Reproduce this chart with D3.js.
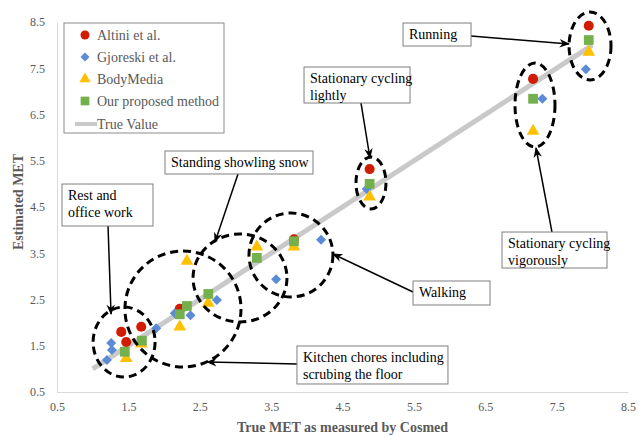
<!DOCTYPE html>
<html><head><meta charset="utf-8">
<script src="https://cdn.jsdelivr.net/npm/d3@7"></script>
<style>body{margin:0;background:#fff;} svg{display:block;} svg text{font-family:"Liberation Serif","Times New Roman",serif !important;}</style>
</head><body><svg id="c" width="639" height="437"></svg>
<script>
// ---- data ----
const ticks = [0.5,1.5,2.5,3.5,4.5,5.5,6.5,7.5,8.5];
const seriesNames = ["Altini et al.","Gjoreski et al.","BodyMedia","Our proposed method"];
const altini = [[1.40,1.80],[1.47,1.58],[1.68,1.91],[2.22,2.30],[3.82,3.80],[4.88,5.32],[7.17,7.27],[7.95,8.42]];
const gjoreski = [[1.20,1.19],[1.27,1.41],[1.26,1.56],[1.89,1.88],[2.15,2.20],[2.37,2.16],[2.74,2.49],[3.57,2.94],[4.20,3.79],[4.84,4.89],[7.30,6.84],[7.91,7.48]];
const bodymedia = [[1.47,1.23],[1.68,1.54],[2.22,1.91],[2.32,3.33],[2.62,2.42],[3.30,3.64],[3.82,3.64],[4.88,4.72],[7.17,6.14],[7.95,7.85]];
const proposed = [[1.45,1.37],[1.69,1.61],[2.22,2.18],[2.32,2.36],[2.62,2.62],[3.30,3.40],[3.82,3.76],[4.88,5.00],[7.17,6.84],[7.95,8.11]];
const trueValue = [[1,1],[8,8]];
// activity groups (ellipses, data units: cx, cy, rx, ry)
const groups = [[1.44,1.58,0.434,0.757],[2.265,2.295,0.813,1.254],[3.064,2.965,0.658,0.951],[3.778,3.462,0.588,0.908],[4.899,5.02,0.21,0.562],[7.197,6.705,0.28,0.908],[7.968,7.981,0.294,0.735]];
// callouts: lines, box left/top (data), arrow from -> to (data)
const callouts = [
 {lines:["Running"], x:5.348, y:8.478, w:68, h:23, from:[6.301,8.197], to:[7.673,8.024]},
 {lines:["Stationary cycling","lightly"], x:3.961, y:7.527, w:106, h:36, from:[4.759,6.749], to:[4.885,5.559]},
 {lines:["Stationary cycling","vigorously"], x:6.735, y:3.959, w:105, h:36, from:[7.435,3.959], to:[7.211,5.776]},
 {lines:["Standing showling snow"], x:2.013, y:5.711, w:148, h:23, from:[3.036,5.214], to:[2.714,3.743]},
 {lines:["Rest and","office work"], x:0.570, y:4.997, w:91, h:42, from:[1.215,4.089], to:[1.257,2.186]},
 {lines:["Walking"], x:5.488, y:2.90, w:77, h:24, from:[5.488,2.662], to:[4.367,3.484]},
 {lines:["Kitchen chores including","scrubing the floor"], x:3.862, y:1.495, w:151, h:38, from:[3.862,1.105], to:[2.602,1.149]}
];
// ---- chart ----
const FONT = "Liberation Serif";
const svg = d3.select("#c");
const m = {l:57, r:628, t:22, b:392};
const x = d3.scaleLinear().domain([0.5,8.5]).range([m.l,m.r]);
const y = d3.scaleLinear().domain([0.5,8.5]).range([m.b,m.t]);
const colors = ["#d01c00","#5b8bd6","#ffc000","#74b04c"];
const symbols = [d3.symbolCircle, d3.symbolSquare, d3.symbolTriangle, d3.symbolSquare];
const rot = [0,45,0,0];
const sizes = [80, 50, 70, 95];
const grey = "#595959";

const defs = svg.append("defs");
defs.append("marker").attr("id","ah").attr("viewBox","0 0 10 10").attr("refX",9).attr("refY",5)
  .attr("markerWidth",7).attr("markerHeight",7).attr("orient","auto-start-reverse")
  .append("path").attr("d","M0,1 L10,5 L0,9 L3,5 Z").attr("fill","#000");

// axes
const xa = svg.append("g").attr("transform",`translate(0,${m.b})`)
  .call(d3.axisBottom(x).tickValues(ticks).tickFormat(d3.format(".1f")).tickSize(0).tickPadding(10));
const ya = svg.append("g").attr("transform",`translate(${m.l},0)`)
  .call(d3.axisLeft(y).tickValues(ticks).tickFormat(d3.format(".1f")).tickSize(0).tickPadding(12));
[xa,ya].forEach(a=>{a.attr("font-family",FONT);
  a.select(".domain").attr("stroke","#d9d9d9").attr("stroke-width",1);
  a.selectAll("text").attr("fill",grey).attr("font-size",12).attr("font-family",FONT);});

svg.append("text").attr("x",(m.l+m.r)/2).attr("y",432).attr("text-anchor","middle").attr("font-family",FONT)
  .attr("font-weight","bold").attr("font-size",14).attr("fill",grey).text("True MET as measured by Cosmed");
svg.append("text").attr("transform",`translate(23,${(m.t+m.b)/2 - 5}) rotate(-90)`).attr("text-anchor","middle").attr("font-family",FONT)
  .attr("font-weight","bold").attr("font-size",14).attr("fill",grey).text("Estimated MET");

// true value line
svg.append("path").datum(trueValue).attr("d",d3.line().x(d=>x(d[0])).y(d=>y(d[1])))
  .attr("stroke","#c9c9c9").attr("stroke-width",5).attr("fill","none");

// series
[altini,gjoreski,bodymedia,proposed].forEach((s,i)=>{
  svg.append("g").selectAll("path").data(s).join("path")
    .attr("transform",d=>`translate(${x(d[0])},${y(d[1])}) rotate(${rot[i]})`)
    .attr("d",d3.symbol().type(symbols[i]).size(sizes[i])())
    .attr("fill",colors[i]);
});

// group ellipses
svg.append("g").selectAll("ellipse").data(groups).join("ellipse")
  .attr("cx",d=>x(d[0])).attr("cy",d=>y(d[1]))
  .attr("rx",d=>x(d[0]+d[2])-x(d[0])).attr("ry",d=>y(d[1])-y(d[1]+d[3]))
  .attr("fill","none").attr("stroke","#000").attr("stroke-width",3).attr("stroke-dasharray","8,5");

// callouts
const cg = svg.append("g");
callouts.forEach(c=>{
  cg.append("line").attr("x1",x(c.from[0])).attr("y1",y(c.from[1])).attr("x2",x(c.to[0])).attr("y2",y(c.to[1]))
    .attr("stroke","#000").attr("stroke-width",1.5).attr("marker-end","url(#ah)");
});
callouts.forEach(c=>{
  const g = cg.append("g").attr("transform",`translate(${x(c.x)},${y(c.y)})`);
  g.append("rect").attr("width",c.w).attr("height",c.h).attr("fill","#fff").attr("stroke","#7f7f7f").attr("stroke-width",1);
  c.lines.forEach((t,k)=>g.append("text").attr("x",6).attr("y",16+k*17).attr("font-family",FONT).attr("font-size",14).attr("fill","#000").text(t));
});

// legend
const lg = svg.append("g").attr("transform","translate(64,23)");
lg.append("rect").attr("width",160).attr("height",110).attr("fill","#fff").attr("stroke","#8c8c8c").attr("stroke-width",1);
seriesNames.forEach((n,i)=>{
  const yy = 12 + i*22;
  lg.append("path").attr("transform",`translate(21,${yy}) rotate(${rot[i]})`).attr("d",d3.symbol().type(symbols[i]).size(sizes[i]*0.8)()).attr("fill",colors[i]);
  lg.append("text").attr("x",33).attr("y",yy+5).attr("font-family",FONT).attr("font-size",14).attr("fill",grey).text(n);
});
lg.append("line").attr("x1",11).attr("x2",33).attr("y1",101).attr("y2",101).attr("stroke","#c9c9c9").attr("stroke-width",4);
lg.append("text").attr("x",33).attr("y",106).attr("font-family",FONT).attr("font-size",14).attr("fill",grey).text("True Value");
</script></body></html>
